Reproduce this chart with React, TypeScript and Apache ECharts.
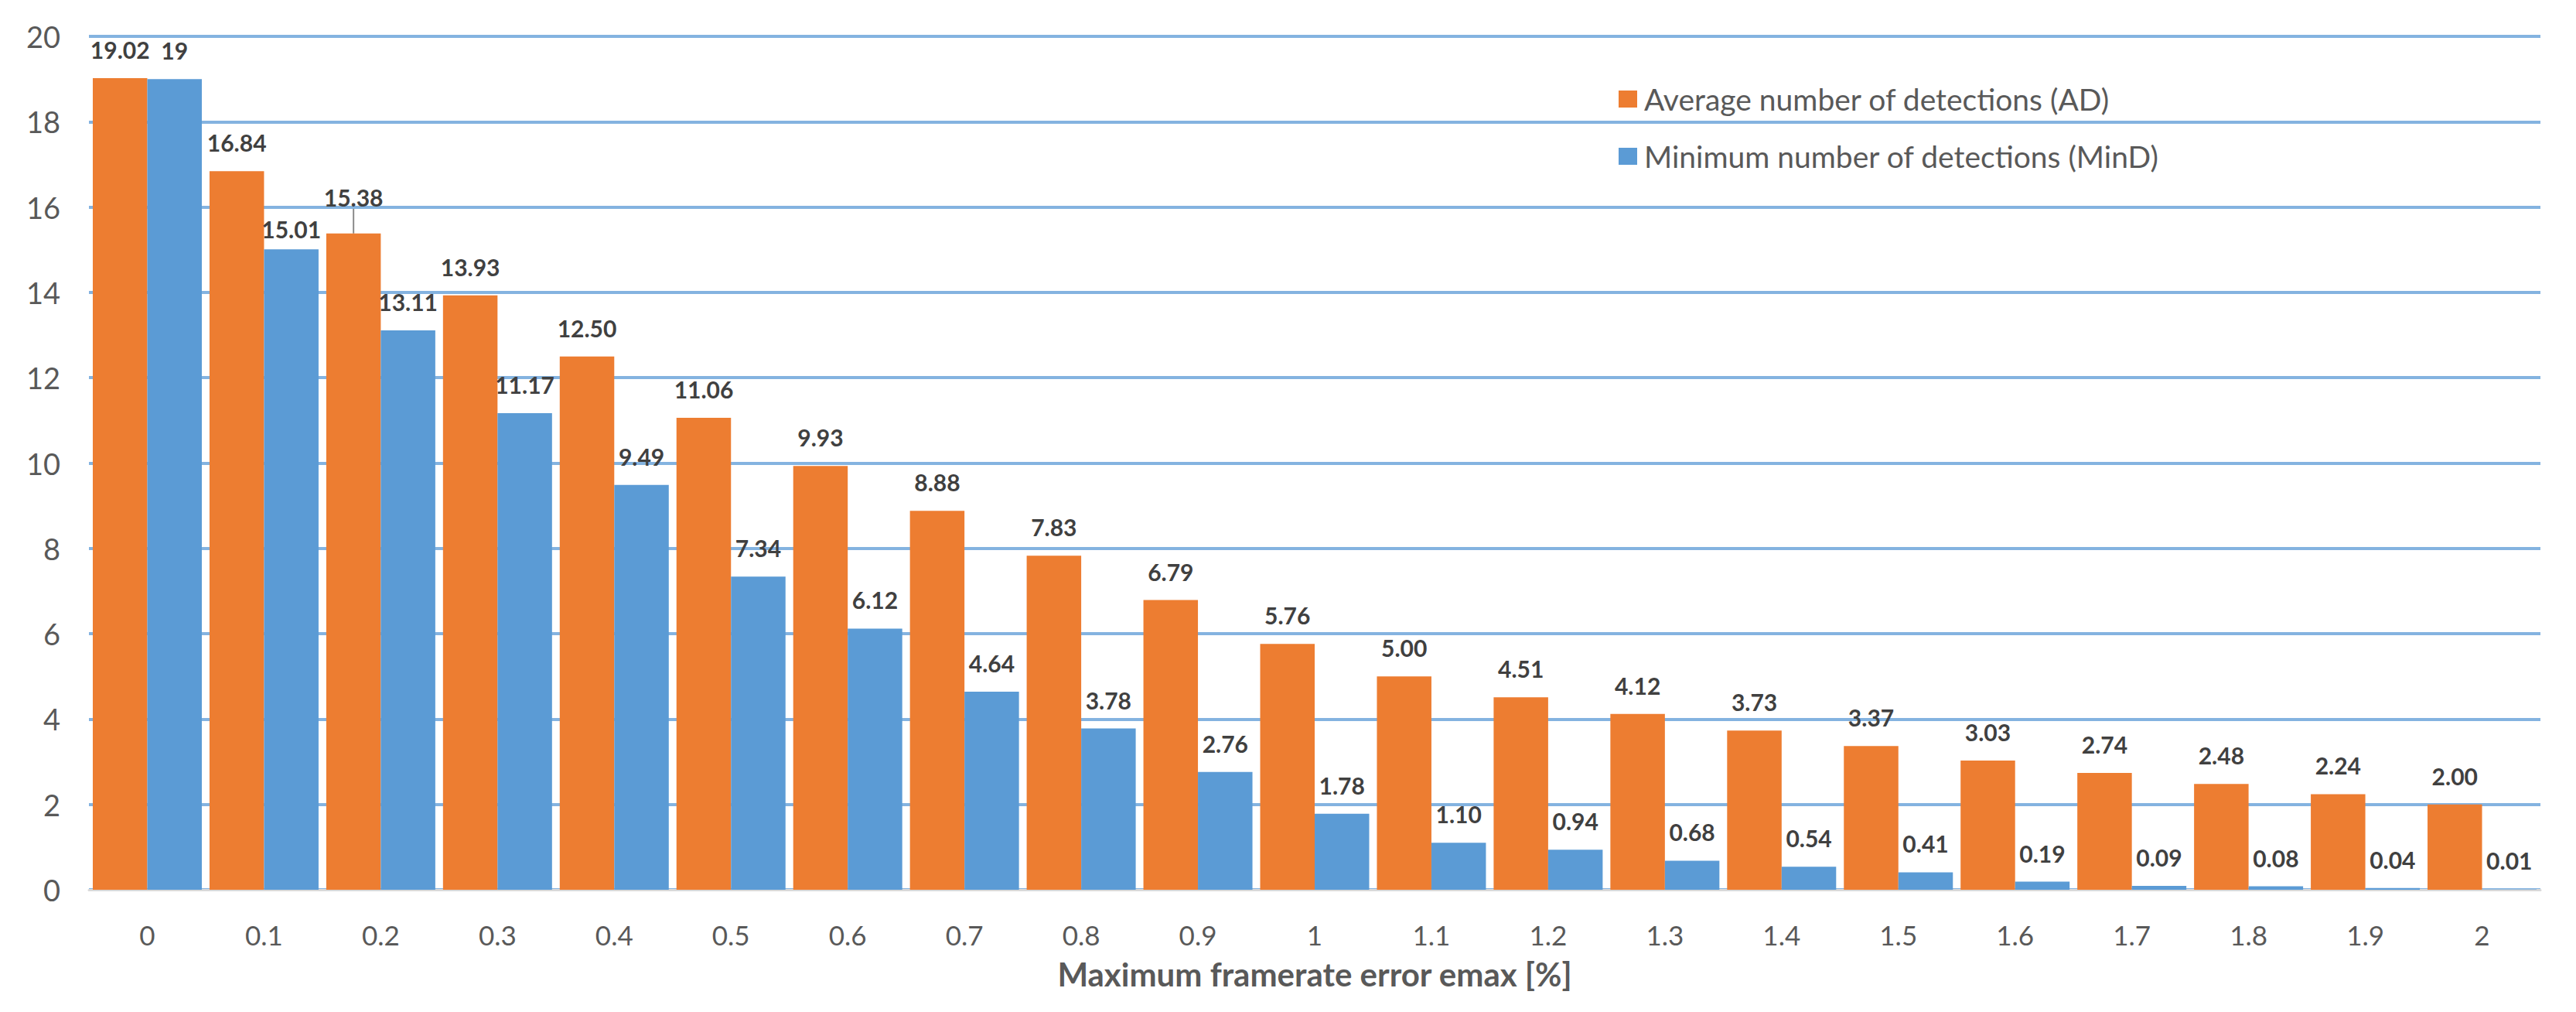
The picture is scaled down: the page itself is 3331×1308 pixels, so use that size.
import React, { useEffect, useRef } from "react";
import * as echarts from "echarts";

const categories = ["0", "0.1", "0.2", "0.3", "0.4", "0.5", "0.6", "0.7", "0.8", "0.9", "1", "1.1", "1.2", "1.3", "1.4", "1.5", "1.6", "1.7", "1.8", "1.9", "2"];
const averageDetections = [19.02, 16.84, 15.38, 13.93, 12.5, 11.06, 9.93, 8.88, 7.83, 6.79, 5.76, 5.0, 4.51, 4.12, 3.73, 3.37, 3.03, 2.74, 2.48, 2.24, 2.0];
const minimumDetections = [19, 15.01, 13.11, 11.17, 9.49, 7.34, 6.12, 4.64, 3.78, 2.76, 1.78, 1.1, 0.94, 0.68, 0.54, 0.41, 0.19, 0.09, 0.08, 0.04, 0.01];
const seriesNames = ["Average number of detections (AD)", "Minimum number of detections (MinD)"];
const xAxisTitle = "Maximum framerate error emax [%]";

const FONT = "Lato, 'Open Sans', sans-serif";
const TEXT = "#595959";

export default function App() {
  const ref = useRef<HTMLDivElement>(null);
  useEffect(() => {
    if (!ref.current) return;
    const chart = echarts.init(ref.current, null, { renderer: "svg" });
    const labelBase = {
      show: true,
      position: "top",
      distance: 22,
      fontFamily: FONT,
      fontSize: 30,
      fontWeight: "bold",
      color: "#404040",
    };
    const adData = averageDetections.map((v, i) =>
      i === 2 ? { value: v, labelLine: { show: true, lineStyle: { color: "#8c8c8c", width: 2 } } } : { value: v }
    );
    chart.setOption({
      animation: false,
      backgroundColor: "#ffffff",
      textStyle: { fontFamily: FONT },
      grid: { left: 115, right: 46, top: 47, bottom: 158, containLabel: false },
      legend: {
        orient: "vertical",
        left: 2088,
        top: 103,
        itemWidth: 24,
        itemHeight: 22,
        itemGap: 34,
        icon: "rect",
        textStyle: { fontFamily: FONT, fontSize: 39, color: TEXT, lineHeight: 40, padding: [0, 0, 0, 4] },
        data: seriesNames,
      },
      xAxis: {
        type: "category",
        data: categories,
        axisLine: { show: true, lineStyle: { color: "#D9D9D9", width: 3 } },
        axisTick: { show: false },
        axisLabel: { fontFamily: FONT, fontSize: 35, color: TEXT, margin: 40 },
        name: xAxisTitle,
        nameLocation: "middle",
        nameGap: 88,
        nameTextStyle: { fontFamily: FONT, fontSize: 42, fontWeight: "bold", color: TEXT },
      },
      yAxis: {
        type: "value",
        min: 0,
        max: 20,
        interval: 2,
        axisLine: { show: false },
        axisTick: { show: false },
        axisLabel: { fontFamily: FONT, fontSize: 38, color: TEXT, margin: 37 },
        splitLine: { show: true, lineStyle: { color: "#84B3E0", width: 4 } },
      },
      series: [
        {
          name: seriesNames[0],
          type: "bar",
          data: adData,
          barGap: "0%",
          barCategoryGap: "6.6%",
          itemStyle: { color: "#ED7D31" },
          label: { ...labelBase, formatter: (p: any) => Number(p.value).toFixed(2) },
          labelLayout: (p: any) => (p.dataIndex === 2 ? { dy: -10 } : {}),
        },
        {
          name: seriesNames[1],
          type: "bar",
          data: minimumDetections,
          barGap: "0%",
          barCategoryGap: "6.6%",
          itemStyle: { color: "#5B9BD5" },
          label: {
            ...labelBase,
            formatter: (p: any) => {
              const v = Number(p.value);
              return Number.isInteger(v) ? String(v) : v.toFixed(2);
            },
          },
          labelLayout: (p: any) => (p.dataIndex === 1 ? { dy: 11 } : {}),
        },
      ],
    });
    return () => chart.dispose();
  }, []);
  return (
    <div
      ref={ref}
      style={{ position: "fixed", left: 0, top: 0, width: 3331, height: 1308, background: "#fff" }}
    />
  );
}
